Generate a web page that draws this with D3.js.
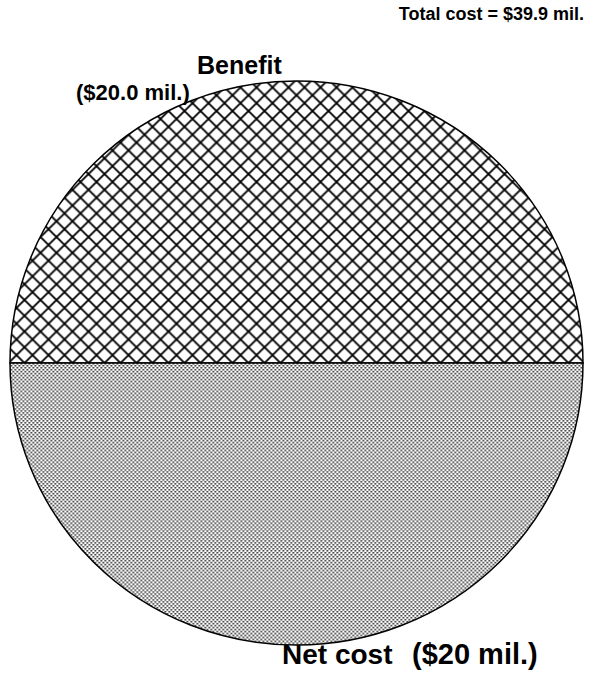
<!DOCTYPE html>
<html>
<head>
<meta charset="utf-8">
<script src="https://cdn.jsdelivr.net/npm/d3@7"></script>
<style>
  body { margin: 0; background: #fff; }
  text { font-family: "Liberation Sans", Arial, sans-serif; font-weight: bold; fill: #000; }
</style>
</head>
<body>
<div id="chart"></div>
<script>
var svgWidth = 596;
var svgHeight = 673;

// pie data
var categories = ["Benefit", "Net cost"];
var values = [20.0, 20.0];
var valueLabels = ["($20.0 mil.)", "($20 mil.)"];
var totalLabel = "Total cost = $39.9 mil.";

// the scanned pie is a touch wider than tall
var cx = 296.5, cy = 363, rx = 286.5, ry = 282;
var hatchSize = 16;

var svg = d3.select("#chart")
  .append("svg")
  .attr("width", svgWidth)
  .attr("height", svgHeight);

var defs = svg.append("defs");

// crosshatch for benefit
var h = hatchSize;
var hatch = defs.append("pattern")
  .attr("id", "hatch")
  .attr("patternUnits", "userSpaceOnUse")
  .attr("x", 0)
  .attr("y", 0)
  .attr("width", h)
  .attr("height", h);
hatch.append("rect").attr("width", h).attr("height", h).attr("fill", "#fff");
hatch.append("path")
  .attr("d", "M-2,-2L" + (h + 2) + "," + (h + 2) + "M" + (h + 2) + ",-2L-2," + (h + 2) +
    "M-3,3L3,-3M" + (h - 3) + "," + (h + 3) + "L" + (h + 3) + "," + (h - 3) +
    "M" + (h - 3) + ",-3L" + (h + 3) + ",3M-3," + (h - 3) + "L3," + (h + 3))
  .attr("stroke", "#000")
  .attr("stroke-width", 1.9);

// stipple for net cost
var dots = defs.append("pattern")
  .attr("id", "dots")
  .attr("patternUnits", "userSpaceOnUse")
  .attr("width", 4)
  .attr("height", 4);
dots.append("rect").attr("width", 4).attr("height", 4).attr("fill", "#fff");
dots.append("rect").attr("x", 0).attr("y", 0).attr("width", 1.6).attr("height", 1.6).attr("fill", "#1a1a1a");
dots.append("rect").attr("x", 2).attr("y", 2).attr("width", 1.6).attr("height", 1.6).attr("fill", "#1a1a1a");

var fills = d3.scaleOrdinal()
  .domain(categories)
  .range(["url(#hatch)", "url(#dots)"]);

var pie = d3.pie()
  .sort(null)
  .startAngle(-Math.PI / 2)
  .endAngle(3 * Math.PI / 2)
  .value(function(d, i) { return values[i]; });

var arc = d3.arc().innerRadius(0).outerRadius(rx);

var g = svg.append("g")
  .attr("transform", "translate(" + cx + "," + cy + ") scale(1," + (ry / rx) + ")");

g.selectAll("path")
  .data(pie(categories))
  .enter()
  .append("path")
  .attr("d", arc)
  .attr("fill", function(d) { return fills(d.data); })
  .attr("stroke", "#000")
  .attr("stroke-width", 1.5);

// labels
svg.append("text")
  .attr("x", 197).attr("y", 74)
  .style("font-size", "25px")
  .text(categories[0]);

svg.append("text")
  .attr("x", 76).attr("y", 100)
  .style("font-size", "22px")
  .text(valueLabels[0]);

svg.append("text")
  .attr("x", 282).attr("y", 664)
  .style("font-size", "28px")
  .text(categories[1]);

svg.append("text")
  .attr("x", 412).attr("y", 664)
  .style("font-size", "29px")
  .text(valueLabels[1]);

svg.append("text")
  .attr("x", 584).attr("y", 20)
  .attr("text-anchor", "end")
  .style("font-size", "18px")
  .text(totalLabel);
</script>
</body>
</html>
